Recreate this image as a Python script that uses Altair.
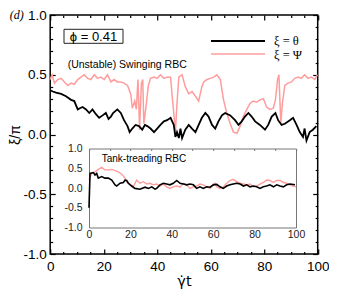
import altair as alt
import pandas as pd

# ---------------- data ----------------
main_t_theta = [0.0, 0.98, 2.2, 4.1, 5.9, 7.8, 9.0, 10.3, 11.1, 12.1,
                13.4, 14.6, 15.8, 17.1, 18.3, 19.6, 20.8, 21.8, 22.7, 23.5,
                25.1, 26.4, 27.6, 28.9, 29.7, 30.7, 31.9, 33.2, 34.4, 35.4,
                36.3, 37.5, 38.8, 40.0, 41.2, 42.5, 43.7, 45.0, 46.2, 46.8,
                47.4, 48.1, 48.7, 49.3, 50.5, 51.8, 53.0, 54.3, 55.5, 56.7,
                58.0, 59.2, 60.5, 61.7, 62.9, 64.2, 65.4, 67.3, 69.1, 70.4,
                71.6, 72.8, 74.1, 75.3, 76.6, 78.4, 80.3, 81.5, 82.8, 84.2,
                85.2, 86.5, 87.7, 89.6, 90.8, 92.1, 93.3, 94.5, 95.1, 95.8,
                97.0, 98.2, 99.5]
main_theta = [0.37, 0.36, 0.35, 0.34, 0.32, 0.29, 0.28, 0.21, 0.22, 0.23,
              0.21, 0.18, 0.21, 0.17, 0.14, 0.16, 0.18, 0.13, 0.15, 0.18,
              0.21, 0.18, 0.12, 0.07, 0.02, 0.05, 0.08, 0.07, 0.04, 0.08,
              0.07, 0.05, 0.02, 0.05, 0.08, 0.11, 0.12, 0.14, 0.08, -0.02,
              0.02, -0.03, 0.05, -0.03, 0.04, 0.08, 0.05, 0.02, 0.08, 0.14,
              0.18, 0.15, 0.08, 0.05, 0.11, 0.16, 0.18, 0.16, 0.12, 0.08,
              0.11, 0.15, 0.18, 0.15, 0.11, 0.08, 0.04, 0.08, 0.15, 0.18,
              0.12, 0.08, 0.09, 0.12, 0.14, 0.08, 0.02, -0.02, 0.05, -0.05,
              0.02, 0.04, 0.07]

main_t_psi = [0.0, 0.7, 1.6, 2.8, 4.1, 5.3, 6.6, 7.8, 9.0, 10.3,
              11.5, 12.7, 14.0, 15.2, 16.5, 17.7, 18.9, 20.2, 21.4, 22.7,
              23.9, 25.1, 26.4, 27.6, 28.9, 30.1, 30.7, 31.6, 32.2, 32.8,
              33.2, 33.4, 34.1, 34.6, 35.0, 35.7, 36.7, 37.5, 38.8, 40.0,
              41.2, 42.5, 43.7, 45.0, 45.6, 46.2, 46.8, 47.4, 48.1, 49.3,
              50.5, 51.8, 53.0, 54.3, 55.5, 56.7, 57.4, 58.6, 59.8, 61.1,
              62.3, 63.6, 64.8, 66.0, 67.3, 68.5, 69.8, 71.0, 72.2, 73.5,
              74.7, 75.9, 77.2, 78.4, 79.7, 80.9, 82.1, 83.4, 84.2, 85.0,
              85.5, 86.0, 86.2, 86.8, 87.7, 88.9, 90.2, 91.4, 92.7, 93.9,
              95.1, 96.4, 97.6, 98.9, 99.9]
main_psi = [0.46, 0.50, 0.43, 0.46, 0.47, 0.44, 0.41, 0.43, 0.42, 0.46,
            0.48, 0.50, 0.47, 0.46, 0.50, 0.47, 0.48, 0.46, 0.50, 0.44,
            0.46, 0.44, 0.44, 0.43, 0.41, 0.34, 0.22, 0.28, 0.21, 0.46,
            0.21, 0.04, 0.43, 0.46, 0.09, 0.21, 0.41, 0.47, 0.48, 0.47,
            0.50, 0.47, 0.48, 0.48, 0.32, 0.18, 0.02, 0.26, 0.48, 0.50,
            0.40, 0.34, 0.36, 0.32, 0.28, 0.40, 0.44, 0.46, 0.47, 0.48,
            0.50, 0.46, 0.29, 0.18, 0.09, 0.02, 0.01, 0.07, 0.15, 0.21,
            0.26, 0.28, 0.27, 0.29, 0.30, 0.23, 0.21, 0.22, 0.29, 0.46,
            0.50, 0.21, 0.09, 0.26, 0.41, 0.43, 0.44, 0.47, 0.48, 0.47,
            0.50, 0.47, 0.48, 0.46, 0.50]

inset_t_theta = [0.0, 0.5, 2.1, 2.9, 3.7, 4.5, 6.1, 7.7, 9.3, 11.0, 12.6,
                 13.4, 15.0, 16.6, 17.4, 18.2, 19.0, 20.6, 22.2, 24.6, 27.1,
                 28.7, 30.3, 31.9, 32.7, 34.3, 35.9, 37.5, 39.1, 40.7, 42.4,
                 44.0, 45.6, 47.2, 48.8, 50.4, 52.0, 53.6, 55.2, 56.9, 58.5,
                 60.1, 61.7, 63.3, 64.9, 66.5, 68.1, 69.7, 71.3, 73.0, 74.6,
                 76.2, 77.8, 79.4, 81.0, 82.6, 84.2, 85.8, 87.4, 89.1, 90.7,
                 92.3, 93.9, 95.5, 97.1, 98.7, 99.5]
inset_theta = [-0.50, 0.37, 0.39, 0.33, 0.37, 0.25, 0.29, 0.25, 0.25, 0.20, 0.08,
               0.05, 0.12, 0.14, 0.20, 0.19, 0.12, 0.05, -0.01, -0.03, 0.02,
               -0.01, 0.03, -0.03, -0.01, 0.08, 0.12, 0.10, 0.08, 0.12, 0.19,
               0.12, 0.10, 0.08, 0.10, 0.08, -0.01, 0.03, -0.01, 0.03, 0.02,
               0.08, 0.09, 0.03, -0.01, 0.05, 0.08, 0.10, 0.12, 0.10, 0.05,
               0.08, 0.03, 0.05, 0.03, -0.01, 0.03, 0.05, 0.08, 0.03, 0.08,
               0.05, 0.03, 0.08, 0.10, 0.09, 0.08]

inset_t_psi = [0.0, 1.3, 2.9, 4.5, 6.1, 7.7, 9.3, 11.0, 12.6, 14.2,
               15.8, 17.4, 18.2, 19.8, 21.4, 23.0, 24.6, 26.3, 27.9, 29.5,
               31.1, 32.7, 34.3, 35.9, 37.5, 39.1, 40.7, 42.4, 44.0, 45.6,
               47.2, 48.8, 50.4, 52.0, 53.6, 55.2, 56.9, 58.5, 60.1, 60.9,
               61.7, 63.3, 64.9, 66.5, 68.1, 69.7, 71.3, 73.0, 74.6, 76.2,
               77.8, 79.4, 81.0, 82.6, 84.2, 85.8, 87.4, 89.1, 90.7, 92.3,
               93.9, 95.5, 97.1, 98.7, 100.0]
inset_psi = [0.20, 0.37, 0.41, 0.47, 0.52, 0.46, 0.46, 0.47, 0.44, 0.41,
             0.35, 0.25, 0.16, 0.10, 0.03, 0.20, 0.12, 0.16, 0.10, 0.12,
             0.08, 0.10, 0.05, 0.10, 0.03, -0.01, 0.03, 0.05, 0.02, 0.12,
             0.08, -0.01, 0.03, 0.05, 0.10, 0.08, 0.03, -0.01, 0.10, 0.12,
             0.03, -0.01, 0.03, 0.12, 0.19, 0.22, 0.16, 0.12, 0.10, 0.08,
             0.10, 0.03, 0.05, 0.10, 0.14, 0.20, 0.19, 0.14, 0.19, 0.19,
             0.14, 0.12, 0.08, 0.05, 0.03]

x_major = [0, 20, 40, 60, 80, 100]
x_all = [0, 5, 10, 15, 20, 25, 30, 35, 40, 45, 50, 55, 60, 65, 70, 75, 80, 85, 90, 95, 100]
x_inset_ticks = [0, 10, 20, 30, 40, 50, 60, 70, 80, 90, 100]
y_major = [-1.0, -0.5, 0.0, 0.5, 1.0]
y_all = [-1.0, -0.9, -0.8, -0.7, -0.6, -0.5, -0.4, -0.3, -0.2, -0.1, 0.0,
         0.1, 0.2, 0.3, 0.4, 0.5, 0.6, 0.7, 0.8, 0.9, 1.0]

legend_labels = ["ξ = θ", "ξ = Ψ"]

# ---------------- styling ----------------
W, H = 267.5, 239
PAD_L, PAD_T = 42.2, 7
PAD_R = 321 - PAD_L - W
PAD_B = 284 - PAD_T - H
FONT = "Liberation Sans"
SERIF = "Liberation Serif"
PINK = "#ff9c9c"
INSET_AX = "#777777"

# inset placement inside the main plot area (pixels)
IX0, IX1 = 38.8, 245.8
IY0, IY1 = 212.5, 133.5

df_mt = pd.DataFrame({"t": main_t_theta, "v": main_theta})
df_mp = pd.DataFrame({"t": main_t_psi, "v": main_psi})
df_it = pd.DataFrame({"t": inset_t_theta, "v": inset_theta})
df_ip = pd.DataFrame({"t": inset_t_psi, "v": inset_psi})

xm = alt.Scale(domain=[0, 100], nice=False, zero=False)
ym = alt.Scale(domain=[-1, 1], nice=False, zero=False)
xi = alt.Scale(domain=[0, 100], range=[IX0, IX1], nice=False, zero=False)
yi = alt.Scale(domain=[-1, 1], range=[IY0, IY1], nice=False, zero=False)

minus_fmt = "(datum.value < 0 ? '-' : '') + format(abs(datum.value), '.1f')"
tick_x = {"condition": {"test": "datum.value % 20 === 0", "value": 5}, "value": 2.5}
tick_y = {"condition": {"test": "abs(datum.value * 2 - round(datum.value * 2)) < 0.000001",
                        "value": 5}, "value": 2.5}


def tick_axis(orient, offset, values, size):
    return alt.Axis(orient=orient, offset=offset, values=values, labels=False,
                    domain=False, ticks=True, tickSize=size, tickColor="black",
                    tickWidth=1.2, grid=False, title=None)


# main curves (pink first, black on top); label axes on pink layer
pink_main = alt.Chart(df_mp).mark_line(color=PINK, strokeWidth=1.5).encode(
    x=alt.X("t:Q", scale=xm, axis=alt.Axis(
        orient="bottom", values=x_major, ticks=False, domain=False,
        labelFont=FONT, labelFontSize=13.5, labelColor="black", labelPadding=5,
        labelFlush=False, labelOverlap=False, grid=False,
        title="γ̇t", titleFont="DejaVu Sans", titleFontSize=14.5,
        titleFontWeight="normal", titleColor="black", titlePadding=2)),
    y=alt.Y("v:Q", scale=ym, axis=alt.Axis(
        orient="left", values=y_major, ticks=False, domain=False,
        labelExpr=minus_fmt, labelFont=FONT, labelFontSize=13.5,
        labelColor="black", labelPadding=4, labelFlush=False,
        labelOverlap=False, grid=False,
        title="ξ/π", titleFont=FONT, titleFontSize=14,
        titleFontWeight="normal", titleColor="black", titlePadding=0)),
)

black_main = alt.Chart(df_mt).mark_line(color="black", strokeWidth=1.8).encode(
    x=alt.X("t:Q", scale=xm, axis=None),
    y=alt.Y("v:Q", scale=ym, axis=None),
)

# inward ticks on bottom & left
ticks_bl = alt.Chart(df_mt).mark_line(opacity=0).encode(
    x=alt.X("t:Q", scale=xm, axis=tick_axis("top", -H, x_all, tick_x)),
    y=alt.Y("v:Q", scale=ym, axis=tick_axis("right", -W, y_all, tick_y)),
)
# inward ticks on top & right
ticks_tr = alt.Chart(df_mt).mark_line(opacity=0).encode(
    x=alt.X("t:Q", scale=xm, axis=tick_axis("bottom", -H, x_all, tick_x)),
    y=alt.Y("v:Q", scale=ym, axis=tick_axis("left", -W, y_all, tick_y)),
)

# inset
pink_inset = alt.Chart(df_ip).mark_line(color=PINK, strokeWidth=1.4).encode(
    x=alt.X("t:Q", scale=xi, axis=alt.Axis(
        orient="bottom", offset=-(H - IY0), values=x_major, ticks=False,
        domain=True, domainColor=INSET_AX, domainWidth=1,
        labelFont=FONT, labelFontSize=10.5, labelColor="#222222", labelPadding=2,
        labelFlush=False, labelOverlap=False, grid=False, title=None)),
    y=alt.Y("v:Q", scale=yi, axis=alt.Axis(
        orient="left", offset=-IX0, values=y_major, ticks=False,
        domain=True, domainColor=INSET_AX, domainWidth=1, labelExpr=minus_fmt,
        labelFont=FONT, labelFontSize=10.5, labelColor="#222222", labelPadding=7,
        labelFlush=False, labelOverlap=False, grid=False, title=None)),
)

black_inset = alt.Chart(df_it).mark_line(color="black", strokeWidth=1.6).encode(
    x=alt.X("t:Q", scale=xi, axis=alt.Axis(
        orient="bottom", offset=-(H - IY1), values=x_inset_ticks, labels=False,
        ticks=True, tickSize=2, tickColor=INSET_AX, domain=True,
        domainColor=INSET_AX, domainWidth=1, grid=False, title=None)),
    y=alt.Y("v:Q", scale=yi, axis=alt.Axis(
        orient="left", offset=-IX1, values=y_major, labels=False, ticks=False,
        domain=True, domainColor=INSET_AX, domainWidth=1, grid=False, title=None)),
)


def note(text, x, y, size, font=FONT, align="left", style="normal"):
    return alt.Chart(pd.DataFrame({"s": [text]})).mark_text(
        align=align, baseline="middle", font=font, fontSize=size,
        fontStyle=style, color="black").encode(
        text="s:N", x=alt.value(x), y=alt.value(y))


one = pd.DataFrame({"k": [0]})
phi_box = alt.Chart(one).mark_rect(fillOpacity=0, stroke="#222222", strokeWidth=1).encode(
    x=alt.value(13.8), x2=alt.value(72.8), y=alt.value(14.3), y2=alt.value(28.3))
leg_black = alt.Chart(one).mark_rule(color="black", strokeWidth=2).encode(
    x=alt.value(160.8), x2=alt.value(214.8), y=alt.value(26))
leg_pink = alt.Chart(one).mark_rule(color=PINK, strokeWidth=1.5).encode(
    x=alt.value(160.8), x2=alt.value(214.8), y=alt.value(39))

chart = alt.layer(
    pink_main, black_main, ticks_bl, ticks_tr, pink_inset, black_inset,
    phi_box, leg_black, leg_pink,
    note("ϕ = 0.41", 43.3, 21.5, 13, align="center"),
    note("(Unstable) Swinging RBC", 17.5, 50, 10.5),
    note("Tank-treading RBC", 51.5, 144, 10),
    note(legend_labels[0], 223.8, 26, 12.5, font=SERIF),
    note(legend_labels[1], 223.8, 39.5, 12.5, font=SERIF),
    note("(d)", -33.5, 0, 12, font=SERIF, align="center", style="italic"),
).resolve_scale(
    x="independent", y="independent"
).resolve_axis(
    x="independent", y="independent"
).properties(
    width=W, height=H,
    autosize=alt.AutoSizeParams(type="none"),
    padding={"left": PAD_L, "top": PAD_T, "right": PAD_R, "bottom": PAD_B},
).configure_view(
    stroke="black", strokeWidth=1.5
)

chart.save("out.html", embed_options={"renderer": "svg", "actions": False})
